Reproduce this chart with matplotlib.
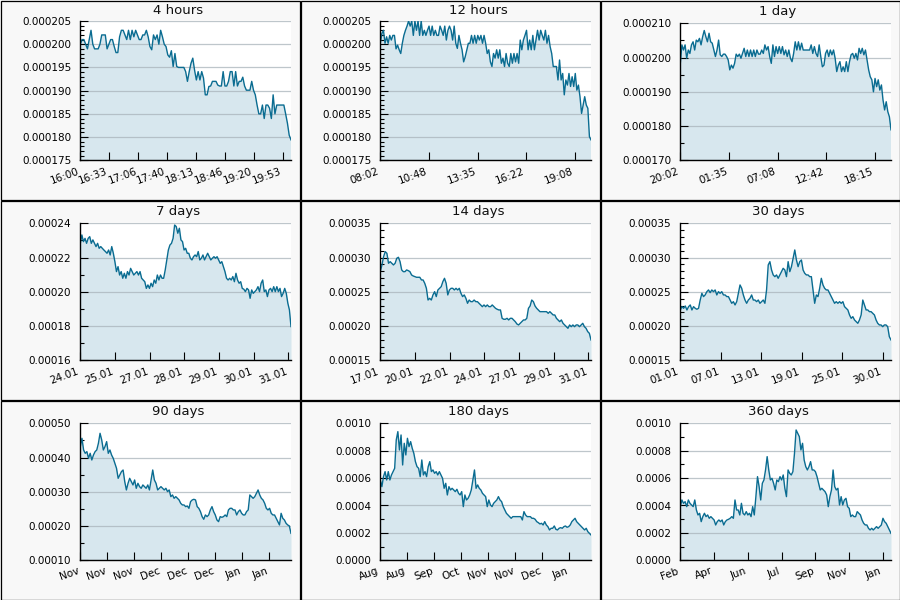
import numpy as np
import matplotlib
matplotlib.use("Agg")
import matplotlib.pyplot as plt
from matplotlib.ticker import MultipleLocator, FormatStrFormatter
from matplotlib.patches import Rectangle

SCALE = 1e-6  # values below are in millionths

titles = ["4 hours", "12 hours", "1 day", "7 days", "14 days", "30 days",
          "90 days", "180 days", "360 days"]

p1_vals = [200, 201, 201, 200, 199, 201, 203, 200, 199, 199, 199, 200, 202, 202, 202, 199, 200, 201,
           201, 199.5, 198.2, 198.2, 201.6, 203, 203, 202, 201, 203, 201, 203, 201.6, 203, 202, 201,
           201, 202, 202, 203, 201.6, 199.5, 198.8, 202, 201, 202, 200, 203, 201.6, 200, 199.5, 197.7,
           197.2, 198.6, 195.2, 198, 195.2, 195, 195, 195, 195, 194.1, 192, 194.1, 195.9, 197, 194.4,
           192.3, 194.1, 192.3, 194.1, 192.7, 189.1, 189.1, 190.9, 191, 192, 192, 192, 191.2, 191,
           191, 194.1, 191, 191, 192, 194.1, 194.1, 191, 194.1, 191, 192, 192, 192.9, 191, 190.1,
           190.1, 190.1, 192, 190.1, 189.1, 186.9, 185, 185, 186.9, 184, 186.9, 186.9, 186.2, 184,
           189.1, 185, 186.9, 186.9, 186.9, 186.9, 186.9, 185, 183, 180.4, 179.4]

p2_vals = [200.2, 202.3, 203, 200.2, 201.6, 200.2, 201.9, 200.9, 201.9, 201.9, 199, 199.8, 198.8,
           198, 200.2, 201.9, 203, 203.9, 205, 203.9, 205, 201.9, 205, 203, 205, 201.9, 205, 201.9,
           203, 201.9, 203, 203.9, 201.9, 203.9, 201.9, 203, 201.9, 201.9, 203.9, 203, 201.9, 203.9,
           200.9, 203, 203.9, 203, 200.9, 203.9, 200.2, 199.1, 201.9, 200.2, 198.8, 196.2, 197.3,
           198.8, 200.2, 200.2, 201.9, 200.2, 201.9, 200.2, 201.9, 200.9, 201.9, 200.2, 201.9, 200.2,
           198, 198.8, 196.2, 195.2, 198, 197, 198.8, 197, 198.8, 195.9, 197, 195.2, 198, 195.9,
           195.2, 198, 195.9, 198, 196.2, 198, 195.9, 200.9, 198.8, 200.9, 201.9, 203, 198.8, 200.9,
           198.8, 201.9, 198.8, 200.9, 203, 200.9, 203, 201.9, 200.9, 203, 200.2, 201.9, 199.5, 198,
           195.2, 195.2, 195.2, 192.3, 196.6, 192.3, 193.7, 189.1, 192.3, 191.2, 193.7, 190.9, 193,
           190.9, 193.7, 190.1, 191.2, 188.7, 185.1, 186.9, 188.7, 186.9, 186.2, 180.1, 179.4]

p3_vals = [198.3, 203.7, 202.2, 203.7, 199.8, 202.2, 201.2, 203.7, 204.6, 202.2, 205.1, 204.6, 205.6,
           203.7, 206.1, 207.9, 206.1, 204.6, 207.1, 204.6, 204.2, 202.2, 200.3, 202.2, 205.1, 200.8,
           200.3, 201, 201, 200.3, 199.3, 196.4, 197.8, 196.9, 198.3, 201, 200.3, 201, 199.8, 201.2,
           202.7, 200.3, 202.2, 200.3, 202.2, 200.3, 202.2, 200.3, 202.2, 201, 201, 202.2, 201.2,
           203.7, 202.2, 203.2, 200.3, 198.3, 203.7, 200.3, 203.2, 201.2, 203.2, 201.2, 203.2, 200.8,
           202.2, 200.3, 202.2, 199.8, 198.8, 201.2, 204.6, 202.2, 204.6, 202.2, 204.2, 202.2, 202.2,
           202.2, 202.2, 202.2, 203.7, 201.2, 203.2, 201.2, 200.3, 203.7, 200.3, 197.3, 197.8, 201.2,
           202.2, 200.3, 202.2, 200.8, 202.2, 199.8, 195.9, 197.8, 198.8, 195.9, 197.3, 195.9, 198.8,
           195.9, 198.8, 200.8, 201.2, 199.8, 201.2, 199.3, 202.7, 201.2, 202.7, 200.8, 202.2, 199.3,
           196.4, 194.4, 193.5, 190, 193.9, 191.5, 193.5, 190.5, 192, 187.6, 184.7, 187.1, 184.2,
           182.7, 178.9]

p4_vals = [228.3, 233.2, 229.3, 231.2, 228.3, 231.2, 232.2, 228.3, 230.3, 228.3, 226.4, 228.3, 225.4,
           226.4, 225.4, 224.4, 223.5, 222.5, 224.4, 221.5, 226.4, 222.5, 217.6, 211.8, 214.7, 209.8,
           211.8, 207.9, 210.8, 207.9, 211.8, 209.8, 213.7, 211.8, 209.8, 210.8, 211.8, 209.8, 211.8,
           207.9, 206.9, 205.9, 202, 204, 202, 205, 203, 206.9, 205, 209.8, 206.9, 209.8, 207.9,
           207.9, 212.7, 218.6, 224.4, 227.3, 228.3, 231.2, 239, 238.1, 234.2, 237.1, 230.3, 229.3,
           224.4, 225.4, 222.5, 222.5, 219.6, 218.6, 220.5, 221.5, 220.5, 223.5, 218.6, 219.6, 221.5,
           218.6, 220.5, 222.5, 220.5, 218.6, 219.6, 220.5, 219.6, 220.5, 218.6, 216.6, 217.6, 214.7,
           211.8, 207.9, 206.9, 207.9, 206.9, 208.9, 205.9, 210.8, 206.9, 205, 205.9, 202, 201.5,
           200.1, 202, 201.1, 196.2, 201.1, 199.1, 200.1, 201.1, 203, 200.1, 205, 206.9, 200.1,
           201.1, 197.2, 201.1, 202, 200.1, 203, 200.1, 203, 200.1, 202, 197.2, 199.1, 202, 199.1,
           193.3, 189.4, 179.7]

p5_vals = [279.4, 289.2, 301.3, 308.6, 306.2, 291.6, 294, 291.6, 289.2, 291.6, 298.9, 300.4, 294,
           281.9, 279.4, 279.4, 281.9, 280.9, 279.4, 274.6, 273.1, 272.1, 271.2, 271.2, 271.2, 267.3,
           267.3, 262.4, 255.1, 238, 240.5, 238, 245.4, 250.2, 243, 252.7, 255.1, 257.5, 264.8, 269.7,
           262.4, 245.4, 252.7, 255.1, 255.1, 252.7, 255.1, 252.7, 255.1, 247.8, 243, 245.4, 240.5,
           233.2, 238, 235.6, 235.6, 238, 235.6, 235.6, 233.2, 230.8, 228.3, 230.8, 228.3, 230.8,
           228.3, 228.3, 230.8, 228.3, 225.9, 224.5, 223.5, 223.5, 211.3, 209.9, 209.9, 211.3, 208.9,
           211.3, 211.3, 208.9, 206.4, 203, 201.6, 204, 206.4, 208.9, 208.9, 211.3, 225.9, 229.3,
           238, 235.6, 229.3, 225.9, 223.5, 221, 221, 221, 221, 221, 218.6, 221, 218.6, 216.2, 216.2,
           211.3, 208.9, 206.4, 208.9, 204, 201.6, 199.1, 196.7, 201.6, 199.1, 201.6, 199.1, 201.6,
           201.6, 199.1, 201.6, 204, 199.1, 196.7, 191.9, 189.4, 179.7]

p6_vals = [223.5, 228.3, 225.9, 229.3, 223.5, 228.3, 230.8, 223.5, 228.3, 225.9, 224.5, 225.9, 238,
           247.8, 243, 245.4, 250.2, 252.7, 248.8, 252.7, 250.2, 252.7, 245.4, 250.2, 247.8, 250.2,
           245.4, 245.4, 243, 243, 238, 233.2, 235.6, 230.8, 235.6, 247.8, 260, 255.1, 245.4, 238,
           233.2, 238, 240.5, 245.4, 238, 238, 235.6, 238, 233.2, 235.6, 238, 233.2, 252.7, 289.2,
           294, 281.9, 274.6, 272.1, 274.6, 269.7, 274.6, 279.4, 284.3, 281.9, 272.1, 294, 279.4,
           286.7, 298.9, 311.1, 296.5, 286.7, 294, 296.5, 281.9, 277, 274.6, 274.6, 272.1, 272.1,
           252.7, 233.2, 245.4, 243, 255.1, 269.7, 260, 255.1, 252.7, 252.7, 247.8, 243, 238, 233.2,
           235.6, 233.2, 235.6, 233.2, 235.6, 228.3, 225.9, 223.5, 216.2, 211.3, 213.7, 208.9, 206.4,
           204, 208.9, 216.2, 238, 230.8, 223.5, 223.5, 221, 221, 218.6, 216.2, 208.9, 204, 201.6,
           201.6, 199.1, 201.6, 201.6, 199.1, 184.5, 179.7]

p7_vals = [431.9, 456.2, 422.1, 412.4, 417.3, 397.8, 412.4, 392.9, 407.5, 417.3, 422.1, 441.6, 470.8,
           451.4, 422.1, 431.9, 446.5, 412.4, 422.1, 407.5, 397.8, 383.2, 368.6, 339.4, 349.1, 358.9,
           363.7, 329.7, 305.4, 324.8, 339.4, 329.7, 320, 334.5, 310.2, 324.8, 315.1, 310.2, 320,
           315.1, 310.2, 320, 305.4, 334.5, 363.7, 334.5, 324.8, 305.4, 310.2, 315.1, 310.2, 305.4,
           310.2, 300.5, 305.4, 285.9, 290.8, 281, 285.9, 281, 276.2, 266.4, 261.6, 261.6, 256.7,
           258.6, 251.8, 271.3, 276.2, 278.1, 276.2, 256.7, 251.8, 242.1, 227.5, 219.7, 232.4, 227.5,
           232.4, 247, 256.7, 242.1, 232.4, 217.8, 212.9, 227.5, 225.5, 227.5, 232.4, 227.5, 247,
           251.8, 251.8, 247, 247, 232.4, 242.1, 247, 237.2, 232.4, 232.4, 242.1, 247, 290.8, 285.9,
           281, 285.9, 295.6, 305.4, 290.8, 281, 276.2, 266.4, 251.8, 247, 251.8, 237.2, 232.4, 232.4,
           222.6, 212.9, 203.2, 237.2, 222.6, 217.8, 208, 203.2, 200.2, 178.8]

p8_vals = [586.4, 537.7, 610.7, 647.2, 586.4, 647.2, 586.4, 622.9, 647.2, 671.5, 878.3, 939.2, 805.4,
           914.8, 695.9, 854, 768.9, 890.5, 829.7, 866.2, 817.5, 781, 720.2, 683.7, 671.5, 610.7,
           732.4, 622.9, 647.2, 610.7, 683.7, 720.2, 647.2, 659.4, 635, 647.2, 622.9, 647.2, 622.9,
           598.5, 525.5, 562, 476.9, 537.7, 513.4, 525.5, 513.4, 501.2, 518.2, 489.1, 476.9, 501.2,
           391.7, 476.9, 440.4, 452.6, 476.9, 513.4, 586.4, 659.4, 525.5, 550, 525.5, 513.4, 489.1,
           476.9, 464.7, 391.7, 440.4, 403.9, 391.7, 416, 428.2, 440.4, 464.7, 440.4, 428.2, 391.7,
           367.4, 343.1, 330.9, 318.7, 306.6, 318.7, 318.7, 318.7, 318.7, 318.7, 318.7, 294.4, 355.2,
           330.9, 318.7, 318.7, 318.7, 306.6, 306.6, 299.3, 282.2, 274.9, 265.2, 270.1, 257.9, 282.2,
           257.9, 245.7, 221.4, 233.6, 233.6, 250.6, 226.3, 221.4, 233.6, 238.4, 233.6, 245.7, 250.6,
           240.9, 245.7, 257.9, 282.2, 294.4, 306.6, 282.2, 270.1, 257.9, 245.7, 233.6, 221.4, 233.6,
           209.2, 197, 184.9]

p9_vals = [391.7, 440.4, 416, 428.2, 391.7, 440.4, 416, 403.9, 391.7, 440.4, 367.4, 330.9, 343.1,
           282.2, 318.7, 343.1, 318.7, 330.9, 306.6, 318.7, 306.6, 294.4, 257.9, 282.2, 294.4, 282.2,
           294.4, 257.9, 282.2, 294.4, 299.3, 306.6, 318.7, 306.6, 440.4, 367.4, 367.4, 330.9, 416,
           343.1, 330.9, 355.2, 330.9, 343.1, 318.7, 391.7, 330.9, 464.7, 610.7, 537.7, 440.4, 562,
           586.4, 659.4, 756.7, 659.4, 586.4, 598.5, 562, 513.4, 586.4, 574.2, 610.7, 586.4, 622.9,
           525.5, 464.7, 659.4, 635, 622.9, 647.2, 781, 951.3, 927, 902.7, 805.4, 854, 732.4, 683.7,
           659.4, 683.7, 720.2, 659.4, 659.4, 647.2, 610.7, 562, 513.4, 525.5, 513.4, 501.2, 476.9,
           391.7, 464.7, 513.4, 659.4, 537.7, 513.4, 525.5, 403.9, 464.7, 403.9, 440.4, 452.6, 391.7,
           379.6, 318.7, 330.9, 318.7, 318.7, 355.2, 343.1, 330.9, 294.4, 270.1, 257.9, 257.9, 233.6,
           221.4, 233.6, 221.4, 233.6, 245.7, 233.6, 245.7, 257.9, 306.6, 282.2, 270.1, 245.7, 221.4,
           197]

xlabels = [
    ["16:00", "16:33", "17:06", "17:40", "18:13", "18:46", "19:20", "19:53"],
    ["08:02", "10:48", "13:35", "16:22", "19:08"],
    ["20:02", "01:35", "07:08", "12:42", "18:15"],
    ["24.01", "25.01", "27.01", "28.01", "29.01", "30.01", "31.01"],
    ["17.01", "20.01", "22.01", "24.01", "27.01", "29.01", "31.01"],
    ["01.01", "07.01", "13.01", "19.01", "25.01", "30.01"],
    ["Nov", "Nov", "Nov", "Dec", "Dec", "Dec", "Jan", "Jan"],
    ["Aug", "Aug", "Sep", "Oct", "Nov", "Nov", "Dec", "Jan"],
    ["Feb", "Apr", "Jun", "Jul", "Sep", "Nov", "Jan"],
]

# x-span of each panel measured in tick intervals
spans = [7.276, 4.33, 4.33, 6.075, 6.075, 5.205, 7.80, 7.80, 6.237]
ylims = [(175, 205), (175, 205), (170, 210), (160, 240), (150, 350), (150, 350),
         (100, 500), (0, 1000), (0, 1000)]
ymajor = [5, 5, 10, 20, 50, 50, 100, 200, 200]
yminor = [1, 1, 5, 10, 10, 10, 50, 100, 100]
yfmt = ["%.6f", "%.6f", "%.6f", "%.5f", "%.5f", "%.5f", "%.5f", "%.4f", "%.4f"]

series = [p1_vals, p2_vals, p3_vals, p4_vals, p5_vals, p6_vals, p7_vals, p8_vals, p9_vals]

LINE = "#0a6c91"
FILL = "#d7e7ee"
CELL_BG = "#f8f8f8"

fig = plt.figure(figsize=(9, 6), dpi=100)
fig.patch.set_facecolor(CELL_BG)
W, H = 900.0, 600.0

for i in range(9):
    r, c = divmod(i, 3)
    x0, y0 = c * 300, r * 200
    top = 21 if i < 2 else 23.3
    ax = fig.add_axes([(x0 + 80.3) / W, 1 - (y0 + 160.3) / H, 210.7 / W, (160.3 - top) / H])
    vals = np.array(series[i]) * SCALE
    x = np.linspace(0, spans[i], len(vals))
    ax.fill_between(x, vals, 0, color=FILL, linewidth=0, zorder=1)
    ax.plot(x, vals, color=LINE, linewidth=1.0, zorder=2)
    ax.set_xlim(0, spans[i])
    ax.set_ylim(ylims[i][0] * SCALE, ylims[i][1] * SCALE)
    ax.set_xticks(np.arange(len(xlabels[i])))
    ax.set_xticklabels(xlabels[i], rotation=20, ha="right", fontsize=7.5)
    ax.yaxis.set_major_locator(MultipleLocator(ymajor[i] * SCALE))
    ax.yaxis.set_minor_locator(MultipleLocator(yminor[i] * SCALE))
    ax.yaxis.set_major_formatter(FormatStrFormatter(yfmt[i]))
    ax.tick_params(axis="y", which="major", direction="in", length=5.5, width=0.8,
                   labelsize=7.5, pad=6.5)
    ax.tick_params(axis="y", which="minor", direction="in", length=2.8, width=0.8)
    ax.tick_params(axis="x", which="major", direction="in", length=5.5, width=0.8, pad=4)
    ax.set_axisbelow("line")
    ax.grid(axis="y", which="major", color="#a9b4ba", linewidth=0.9, alpha=0.75)
    for s in ("top", "right"):
        ax.spines[s].set_visible(False)
    for s in ("left", "bottom"):
        ax.spines[s].set_linewidth(1.0)
    ax.set_facecolor("white")
    fig.text((x0 + 178) / W, 1 - (y0 + 11) / H, titles[i], ha="center", va="center",
             fontsize=9.5, color="#111111")

# cell borders drawn on top as a separate transparent overlay axes
border_ax = fig.add_axes([0, 0, 1, 1], zorder=10)
border_ax.set_xlim(0, W)
border_ax.set_ylim(H, 0)
border_ax.axis("off")
border_ax.patch.set_alpha(0)
for r in range(3):
    for c in range(3):
        border_ax.add_patch(Rectangle((c * 300 + 0.5, r * 200 + 0.5), 299, 199,
                                      facecolor="none", edgecolor="black", linewidth=0.9))

fig.savefig("out.png", dpi=100, facecolor=CELL_BG)
